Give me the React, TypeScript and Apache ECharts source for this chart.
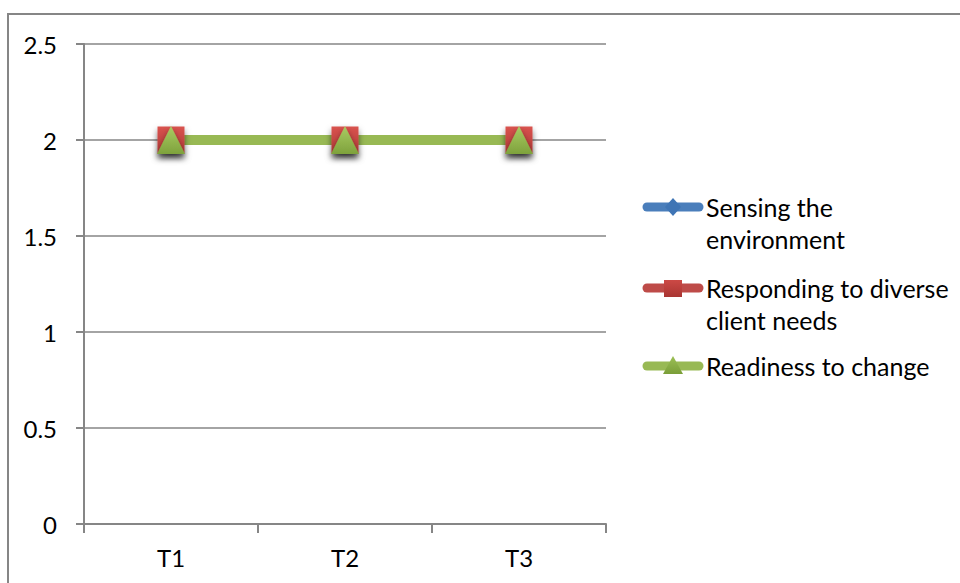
import React, { useEffect, useRef } from "react";
import * as echarts from "echarts";

const categories = ["T1", "T2", "T3"];
const seriesNames = [
  "Sensing the\nenvironment",
  "Responding to diverse\nclient needs",
  "Readiness to change",
];
const sensingValues = [2, 2, 2];
const respondingValues = [2, 2, 2];
const readinessValues = [2, 2, 2];
const yTicks = [0, 0.5, 1, 1.5, 2, 2.5];

const FONT = "Lato, 'Open Sans', sans-serif";
const GRAY = "#868686";
const lineColors = ["#4A7EBB", "#BE4B48", "#98B954"];

function vGrad(top: string, bottom: string) {
  return {
    type: "linear",
    x: 0,
    y: 0,
    x2: 0,
    y2: 1,
    colorStops: [
      { offset: 0, color: top },
      { offset: 1, color: bottom },
    ],
  };
}

export default function App() {
  const ref = useRef<HTMLDivElement>(null);

  useEffect(() => {
    if (!ref.current) return;
    const chart = echarts.init(ref.current, undefined, { renderer: "svg" });

    const markerShadow = {
      shadowBlur: 6,
      shadowColor: "rgba(0,0,0,0.55)",
      shadowOffsetY: 4,
    };

    const series = [
      {
        name: seriesNames[0],
        type: "line",
        data: sensingValues,
        symbol: "diamond",
        symbolSize: 20,
        lineStyle: { color: lineColors[0], width: 10 },
        itemStyle: { color: vGrad("#5A8FD0", "#3A6DA8"), ...markerShadow },
      },
      {
        name: seriesNames[1],
        type: "line",
        data: respondingValues,
        symbol: "rect",
        symbolSize: 27,
        lineStyle: { color: lineColors[1], width: 10 },
        itemStyle: { color: vGrad("#D9534F", "#B23A37"), ...markerShadow },
      },
      {
        name: seriesNames[2],
        type: "line",
        data: readinessValues,
        symbol: "triangle",
        symbolSize: 28,
        lineStyle: { color: lineColors[2], width: 10 },
        itemStyle: { color: vGrad("#AACB63", "#7EA23C"), ...markerShadow },
      },
    ];

    // Hand-built legend: line swatch with marker, label text beside it
    const legendRowY = [207, 288, 366];
    const swatchX0 = 647;
    const swatchX1 = 699;
    const swatchMid = 673;
    const legendGraphics: any[] = [];
    seriesNames.forEach((name, i) => {
      const cy = legendRowY[i];
      legendGraphics.push({
        type: "line",
        shape: { x1: swatchX0, y1: cy, x2: swatchX1, y2: cy },
        style: { stroke: lineColors[i], lineWidth: 9, lineCap: "round" },
      });
      if (i === 0) {
        legendGraphics.push({
          type: "polygon",
          shape: {
            points: [
              [swatchMid, cy - 9],
              [swatchMid + 8, cy],
              [swatchMid, cy + 9],
              [swatchMid - 8, cy],
            ],
          },
          style: { fill: "#3F75B5" },
        });
      } else if (i === 1) {
        legendGraphics.push({
          type: "rect",
          shape: { x: swatchMid - 9, y: cy - 8, width: 18, height: 17 },
          style: { fill: vGrad("#CC4945", "#A93532") },
        });
      } else {
        legendGraphics.push({
          type: "polygon",
          shape: {
            points: [
              [swatchMid, cy - 10],
              [swatchMid + 10, cy + 8],
              [swatchMid - 10, cy + 8],
            ],
          },
          style: { fill: vGrad("#9CC056", "#7A9E38") },
        });
      }
      legendGraphics.push({
        type: "text",
        x: 706,
        y: cy - 16,
        style: {
          text: name,
          font: `25px ${FONT}`,
          fill: "#000",
          lineHeight: 32,
          verticalAlign: "top",
        },
      });
    });

    chart.setOption({
      animation: false,
      backgroundColor: "#fff",
      grid: { left: 84, top: 44, right: 354, bottom: 59 },
      xAxis: {
        type: "category",
        data: categories,
        boundaryGap: true,
        axisLine: { lineStyle: { color: GRAY, width: 2 } },
        axisTick: { show: true, length: 9, lineStyle: { color: GRAY, width: 2 } },
        axisLabel: { color: "#000", fontFamily: FONT, fontSize: 24, margin: 21 },
      },
      yAxis: {
        type: "value",
        min: yTicks[0],
        max: yTicks[yTicks.length - 1],
        interval: 0.5,
        axisLine: { show: true, lineStyle: { color: GRAY, width: 2 } },
        axisTick: { show: true, length: 8, lineStyle: { color: GRAY, width: 2 } },
        splitLine: { lineStyle: { color: GRAY, width: 1.5 } },
        axisLabel: { color: "#000", fontFamily: FONT, fontSize: 24, margin: 27 },
      },
      series,
      graphic: [
        {
          type: "rect",
          shape: { x: 8, y: 14, width: 1000, height: 700 },
          style: { fill: "none", stroke: GRAY, lineWidth: 2 },
          silent: true,
        },
        ...legendGraphics,
      ],
    });

    return () => chart.dispose();
  }, []);

  return (
    <div
      ref={ref}
      style={{ position: "fixed", left: 0, top: 0, width: 960, height: 583 }}
    />
  );
}
